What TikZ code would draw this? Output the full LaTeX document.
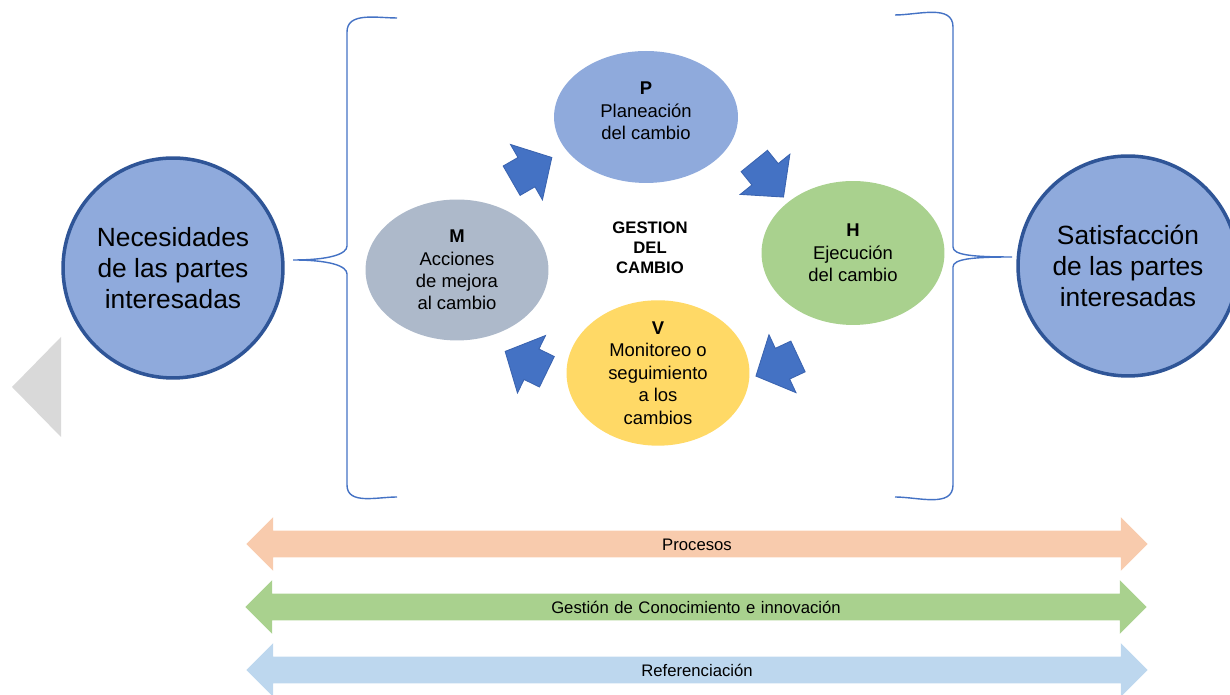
\documentclass[tikz,border=0pt]{standalone}
\usepackage{fontspec}
\setmainfont{Liberation Sans}
\usetikzlibrary{shapes.geometric, shapes.arrows, positioning}

\definecolor{partblue}{HTML}{8FAADC}
\definecolor{partborder}{HTML}{2F5597}
\definecolor{planblue}{HTML}{8FAADC}
\definecolor{execgreen}{HTML}{A9D18E}
\definecolor{monityellow}{HTML}{FFD966}
\definecolor{improvegray}{HTML}{ADB9CA}
\definecolor{arrowblue}{HTML}{4472C4}
\definecolor{arrowborder}{HTML}{3B64B0}
\definecolor{braceblue}{HTML}{4472C4}
\definecolor{procorange}{HTML}{F8CBAD}
\definecolor{knowgreen}{HTML}{A9D18E}
\definecolor{refblue}{HTML}{BDD7EE}
\definecolor{navgray}{HTML}{D9D9D9}

\tikzset{
    basic/.style={align=center, inner sep=0pt},
    party/.style={basic, circle, fill=partblue, draw=partborder, line width=2pt, minimum size=4.4cm, font=\fontsize{15}{17.6}\selectfont},
    phase/.style={basic, ellipse, minimum width=3.66cm, minimum height=2.84cm, font=\fontsize{10.5}{12.8}\selectfont},
    cyclearrow/.style={single arrow, fill=arrowblue, draw=arrowborder, line width=0.5pt, single arrow head extend=0.3cm, single arrow tip angle=95, inner xsep=0.3cm, inner ysep=0.33cm},
    band/.style={double arrow, double arrow head extend=0.27cm, double arrow tip angle=90, inner xsep=0pt, inner ysep=0.125cm, text width=17.48cm, align=center, text height=0.26cm, text depth=0.01cm, font=\fontsize{9.5}{11}\selectfont}
}

\begin{document}
\begin{tikzpicture}[
    x=0.02cm, y=0.02cm, % one unit = one pixel of the sketch
    brace/.style={draw=braceblue, line width=0.8pt}
]
    \useasboundingbox (0,0) rectangle (1230,695);

    % ============================================================
    % Stakeholders (left and right)
    % ============================================================
    \node[party] (needs) at (173,427) {Necesidades\\de las partes\\interesadas};
    \node[party] (satisf) at (1128,429) {Satisfacción\\de las partes\\interesadas};

    % page marker on the left
    \fill[navgray] (12,308) -- (61,358) -- (61,258) -- cycle;

    % ============================================================
    % PHVA cycle
    % ============================================================
    \node[phase, fill=planblue, minimum width=3.68cm, minimum height=2.64cm] (plan) at (646,578) {\textbf{P}\\Planeación\\del cambio\\[-0.2cm]};
    \node[phase, fill=execgreen, minimum height=2.88cm] (exec) at (853,442) {\textbf{H}\\Ejecución\\del cambio};
    \node[phase, fill=monityellow] (monit) at (658,322) {\textbf{V}\\Monitoreo o\\seguimiento\\a los\\cambios};
    \node[phase, fill=improvegray, minimum height=2.82cm] (improve) at (457,425) {\textbf{M}\\Acciones\\de mejora\\al cambio};

    \node[basic, font=\bfseries\fontsize{9.5}{11.4}\selectfont] (core) at (650,447) {GESTION\\DEL\\CAMBIO};

    % block arrows between the phases
    \node[cyclearrow, rotate=30] (m2p) at (525,522) {};
    \node[cyclearrow, rotate=-51] (p2h) at (764,522) {};
    \node[cyclearrow, rotate=205] (h2v) at (784,332) {};
    \node[cyclearrow, rotate=154] (v2m) at (533,330) {};

    % braces around the cycle
    \draw[brace] (397,677) to[out=180,in=90] (347,663) -- (347,449)
        .. controls (347,441) and (330,435) .. (293,435)
        .. controls (330,435) and (347,429) .. (347,421) -- (347,210)
        to[out=-90,in=180] (397,198);
    \draw[brace] (895,680) to[out=0,in=90] (953,668) -- (953,448)
        .. controls (953,440) and (972,438) .. (1012,438)
        .. controls (972,438) and (953,436) .. (953,428) -- (953,210)
        to[out=-90,in=0] (895,198);

    % ============================================================
    % Support bands (bottom)
    % ============================================================
    \node[band, fill=procorange] (proc) at (697,151) {Procesos};
    \node[band, fill=knowgreen] (know) at (696,88) {Gestión de Conocimiento e innovación};
    \node[band, fill=refblue] (bench) at (697,25) {Referenciación};

\end{tikzpicture}
\end{document}
